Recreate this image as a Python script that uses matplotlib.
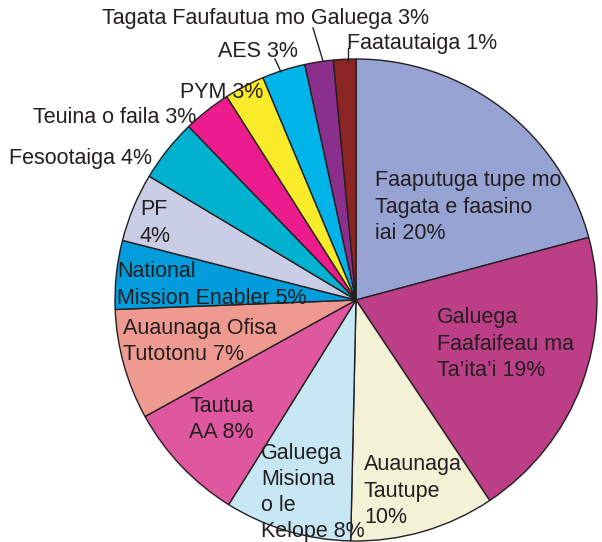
import matplotlib
matplotlib.use('Agg')
import matplotlib.pyplot as plt

# Slice values (percent), read clockwise from 12 o'clock
labels = ['Faaputuga tupe mo\nTagata e faasino\niai 20%',
          'Galuega\nFaafaifeau ma\nTa\u2019ita\u2019i 19%',
          'Auaunaga\nTautupe\n10%',
          'Galuega\nMisiona\no le\nKelope 8%',
          'Tautua\nAA 8%',
          'Auaunaga Ofisa\nTutotonu 7%',
          'National\nMission Enabler 5%',
          'PF\n4%',
          'Fesootaiga 4%',
          'Teuina o faila 3%',
          'PYM 3%',
          'AES 3%',
          'Tagata Faufautua mo Galuega 3%',
          'Faatautaiga 1%']
values = [20.8, 19.8, 9.7, 8.5, 8.1, 7.4, 4.6, 4.6, 4.2, 3.2, 2.7, 2.9, 1.9, 1.5]
colors = ['#97A3D2', '#BB3E86', '#F3F2D6', '#C8E7F4', '#DF579F', '#EF9A90',
          '#009CDB', '#C9CEE6', '#00B2CF', '#EC1C8E', '#F8EB2A', '#00B4EA',
          '#8B2F8C', '#8B2523']

# label anchor (left x, first-line baseline y) in pixels from top-left
label_pos = [(375, 188), (437, 325), (364, 472), (261, 461), (189, 413),
             (123, 335), (117, 278), (140, 216), (9, 164), (33, 123),
             (180, 98), (218, 57), (102, 24), (347, 49)]
# leader lines (pixels)
leaders = [[(313, 28), (323, 61)], [(348, 48), (348, 61)], [(275, 59), (281, 72)]]

W, H = 602, 542
ink = '#231F20'
step = 25.5  # line step in pixels

fig = plt.figure(figsize=(W / 100, H / 100), dpi=100)
ax = fig.add_axes([0, 0, 1, 1])
ax.pie(values, colors=colors, startangle=90, counterclock=False,
       center=(356, H - 300), radius=241, normalize=True,
       wedgeprops=dict(edgecolor=ink, linewidth=1.0))
ax.set_xlim(0, W)
ax.set_ylim(0, H)
ax.set_aspect('equal')
ax.axis('off')

for lab, (x, y) in zip(labels, label_pos):
    # baseline alignment uses the last line, so shift down by the extra lines
    y_last = y + (lab.count('\n')) * step
    ax.text(x, H - y_last, lab, ha='left', va='baseline', fontsize=15.5,
            family='Liberation Sans', color=ink, linespacing=1.33)

for seg in leaders:
    ax.plot([p[0] for p in seg], [H - p[1] for p in seg], color=ink, lw=1.0)

fig.savefig('out.png', dpi=100)
